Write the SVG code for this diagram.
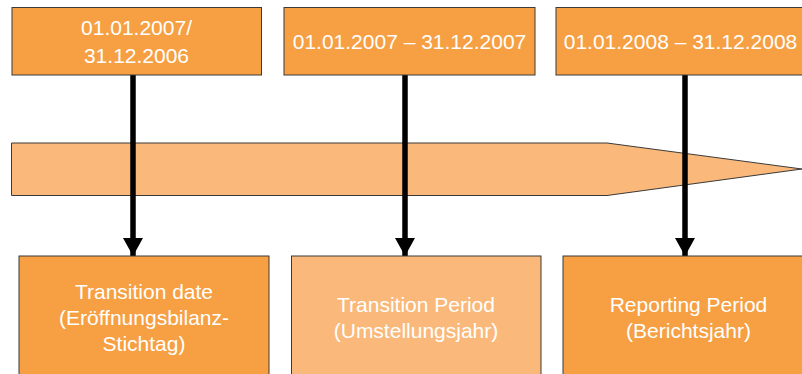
<svg xmlns="http://www.w3.org/2000/svg" width="802" height="374" viewBox="0 0 802 374">
<style>
.dark{fill:#F79F43;stroke:#3a3a3a;stroke-width:1}
.light{fill:#FAB97A;stroke:#3a3a3a;stroke-width:1}
.t{font-family:"Liberation Sans",Arial,sans-serif;font-size:21px;fill:#ffffff;text-anchor:middle}
.conn{stroke:#000;stroke-width:5.5;fill:none}
</style>
<defs>
<marker id="ah" markerUnits="userSpaceOnUse" markerWidth="20" markerHeight="20" refX="18" refY="10" orient="auto" viewBox="0 0 20 20">
<path d="M0,0 L18,10 L0,20 Z" fill="#000"/>
</marker>
</defs>
<rect width="802" height="374" fill="#ffffff"/>
<g id="band">
<path d="M11.5,143 L607,143 L802,169 L607,195.5 L11.5,195.5 Z" class="light" stroke-width="1"/>
</g>
<g id="connectors">
<line class="conn" x1="133" y1="75" x2="133" y2="256" marker-end="url(#ah)"/>
<line class="conn" x1="405" y1="75" x2="405" y2="256" marker-end="url(#ah)"/>
<line class="conn" x1="685" y1="75" x2="685" y2="256" marker-end="url(#ah)"/>
</g>
<g id="top1">
<rect class="dark" x="12" y="7.5" width="249.5" height="67.5"/>
<text class="t" x="136.5" y="35">01.01.2007/</text>
<text class="t" x="136.5" y="62.5">31.12.2006</text>
</g>
<g id="top2">
<rect class="dark" x="284" y="7.5" width="251" height="67.5"/>
<text class="t" x="409.5" y="48.5">01.01.2007 – 31.12.2007</text>
</g>
<g id="top3">
<rect class="dark" x="556" y="7.5" width="249" height="67.5"/>
<text class="t" x="680.5" y="48.5">01.01.2008 – 31.12.2008</text>
</g>
<g id="bottom1">
<rect class="dark" x="19" y="256" width="250" height="130"/>
<text class="t" x="144" y="298.5">Transition date</text>
<text class="t" x="144" y="324.5">(Eröffnungsbilanz-</text>
<text class="t" x="144" y="350.5">Stichtag)</text>
</g>
<g id="bottom2">
<rect class="light" x="291.5" y="256" width="249.5" height="130"/>
<text class="t" x="416" y="312">Transition Period</text>
<text class="t" x="416" y="338">(Umstellungsjahr)</text>
</g>
<g id="bottom3">
<rect class="dark" x="563" y="256" width="251" height="130"/>
<text class="t" x="688.5" y="312">Reporting Period</text>
<text class="t" x="688.5" y="338">(Berichtsjahr)</text>
</g>
</svg>
